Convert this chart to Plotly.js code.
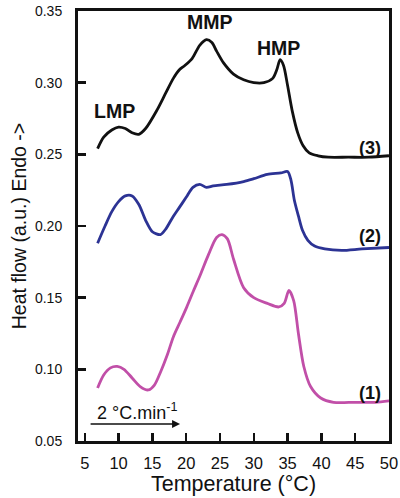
<!DOCTYPE html>
<html>
<head>
<meta charset="utf-8">
<script src="https://cdn.plot.ly/plotly-3.0.1.min.js"></script>
<style>html,body{margin:0;padding:0;background:#fff;}#chart{width:400px;height:498px;}</style>
</head>
<body>
<div id="chart"></div>
<script>
// Sample (1) - magenta
const x1 = [6.9, 7.8, 8.8, 9.8, 10.8, 12, 13.2, 14.4, 15.3, 16.2, 17.2, 18.1, 19.1, 20.1, 21.1, 22.1, 23.3, 24.5, 25.3, 26.1, 27, 28.5, 30, 32, 33.7, 34.5, 35.2, 35.9, 36.6, 37.4, 38.4, 39.9, 41.8, 45, 48, 50];
const y1 = [0.087, 0.096, 0.101, 0.102, 0.100, 0.094, 0.088, 0.0856, 0.089, 0.098, 0.110, 0.1226, 0.133, 0.1436, 0.155, 0.166, 0.180, 0.192, 0.194, 0.191, 0.177, 0.157, 0.150, 0.146, 0.1435, 0.146, 0.155, 0.148, 0.125, 0.102, 0.088, 0.080, 0.077, 0.077, 0.077, 0.078];
// Sample (2) - blue
const x2 = [6.9, 8, 9, 10, 11, 12, 13, 14, 15, 16.2, 17, 18, 19, 20, 21, 22, 23, 24, 26, 28.5, 30, 32, 34, 35, 35.5, 36, 36.6, 37.2, 38, 39, 40.5, 43, 46, 50];
const y2 = [0.188, 0.200, 0.210, 0.217, 0.221, 0.221, 0.215, 0.204, 0.196, 0.194, 0.198, 0.206, 0.213, 0.220, 0.227, 0.229, 0.227, 0.228, 0.229, 0.231, 0.233, 0.236, 0.237, 0.238, 0.232, 0.218, 0.207, 0.197, 0.190, 0.186, 0.184, 0.183, 0.184, 0.185];
// Sample (3) - black
const x3 = [6.9, 7.8, 9, 10, 11, 12, 13, 14, 15.7, 17, 18.1, 19, 19.8, 20.9, 22, 23, 23.8, 24.5, 25.5, 27, 28.5, 30, 31.5, 32.8, 33.4, 33.9, 34.4, 35, 35.7, 36.5, 37.3, 38.2, 39.5, 41, 44, 47, 50];
const y3 = [0.254, 0.262, 0.267, 0.269, 0.268, 0.265, 0.264, 0.268, 0.281, 0.293, 0.303, 0.309, 0.312, 0.317, 0.326, 0.330, 0.328, 0.322, 0.314, 0.306, 0.302, 0.300, 0.300, 0.303, 0.309, 0.316, 0.312, 0.298, 0.280, 0.265, 0.256, 0.251, 0.249, 0.248, 0.248, 0.248, 0.249];

const xTicks = [5, 10, 15, 20, 25, 30, 35, 40, 45, 50];
const yTicks = [0.05, 0.10, 0.15, 0.20, 0.25, 0.30, 0.35];

const peakLabels = ["LMP", "MMP", "HMP"];
const peakX = [9.4, 23.5, 33.7];
const peakY = [0.280, 0.3424, 0.3242];
const curveLabels = ["(1)", "(2)", "(3)"];
const curveLabelX = [47.2, 47.2, 47.2];
const curveLabelY = [0.0835, 0.193, 0.2545];

const font = "Liberation Sans, Arial, sans-serif";
const mk = (x, y, c) => ({x: x, y: y, type: 'scatter', mode: 'lines',
  line: {color: c, width: 2.8, shape: 'spline', smoothing: 0.8}, hoverinfo: 'skip', showlegend: false});

const data = [mk(x1, y1, '#c14fa8'), mk(x2, y2, '#2c3394'), mk(x3, y3, '#111111')];

const annotations = [];
peakLabels.forEach((t, i) => annotations.push({x: peakX[i], y: peakY[i], text: '<b>' + t + '</b>', showarrow: false,
  font: {family: font, size: 19.5, color: '#111'}}));
curveLabels.forEach((t, i) => annotations.push({x: curveLabelX[i], y: curveLabelY[i], text: '<b>' + t + '</b>', showarrow: false,
  font: {family: font, size: 18, color: '#111'}}));
annotations.push({x: 12.75, y: 0.0705, text: '2 °C.min<sup>-1</sup>', showarrow: false,
  font: {family: font, size: 18, color: '#111'}});
annotations.push({x: 19.1, y: 0.0619, ax: -91, ay: 0, axref: 'pixel', ayref: 'pixel', text: ' ', showarrow: true,
  arrowhead: 2, arrowsize: 1, arrowwidth: 1.6, arrowcolor: '#111', font: {size: 1}});

const layout = {
  width: 400, height: 498,
  margin: {l: 78, r: 11, t: 11, b: 57},
  paper_bgcolor: '#fff', plot_bgcolor: '#fff',
  font: {family: font, color: '#111'},
  xaxis: {range: [4, 50], tickvals: xTicks, ticktext: xTicks.map(String), ticks: 'inside', ticklen: 8, tickwidth: 2.5,
    tickcolor: '#111', showline: true, linewidth: 3, linecolor: '#111', mirror: true, showgrid: false, zeroline: false,
    tickfont: {size: 16.5, family: font, color: '#111'}, ticklabelstandoff: 5,
    title: {text: 'Temperature (°C)', font: {size: 21.5, family: font, color: '#111'}, standoff: 5}},
  yaxis: {range: [0.05, 0.35], tickvals: yTicks, ticktext: yTicks.map(v => v.toFixed(2)), ticks: 'inside', ticklen: 8, tickwidth: 2.5,
    tickcolor: '#111', showline: true, linewidth: 3, linecolor: '#111', mirror: true, showgrid: false, zeroline: false,
    tickfont: {size: 14, family: font, color: '#111'}, ticklabelstandoff: 10,
    title: {text: 'Heat flow (a.u.) Endo ->', font: {size: 19.5, family: font, color: '#111'}, standoff: 4}},
  annotations: annotations
};

Plotly.newPlot('chart', data, layout, {displayModeBar: false, staticPlot: true});
</script>
</body>
</html>
